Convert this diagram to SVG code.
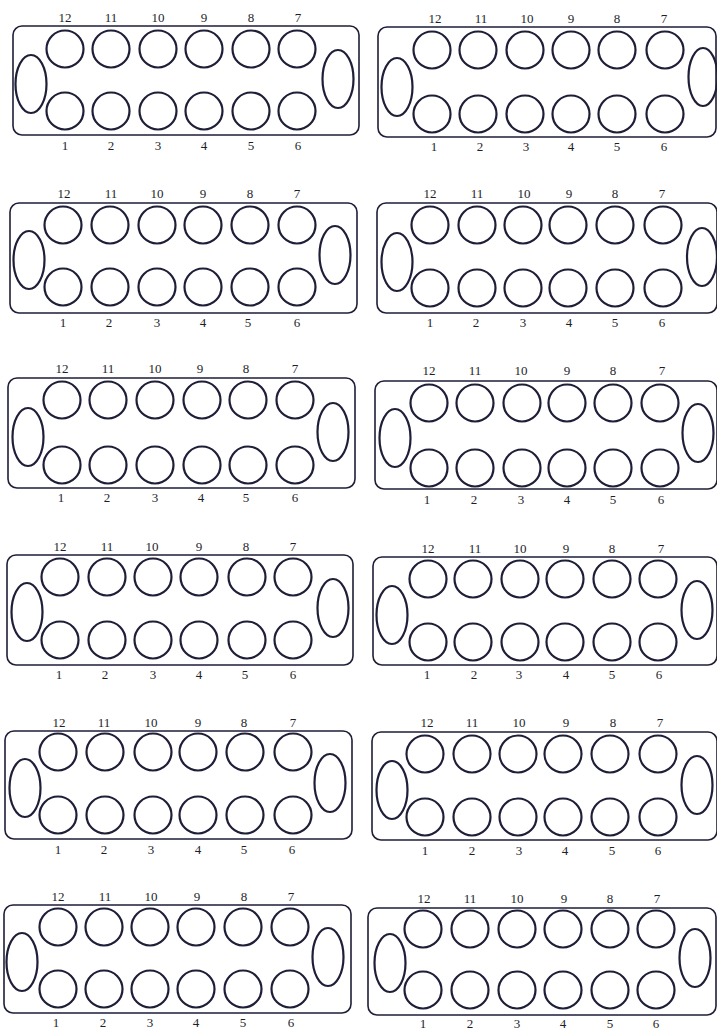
<svg xmlns="http://www.w3.org/2000/svg" width="717" height="1030" viewBox="0 0 717 1030">
<style>
.b{fill:none;stroke:#1e1e38;stroke-width:1.6}
.c{fill:none;stroke:#1e1e38;stroke-width:2.2}
.t{font-family:"Liberation Serif",serif;font-size:13px;fill:#1e1e2a;text-anchor:middle}
</style>
<rect width="717" height="1030" fill="#fff"/>
<g id="panel-1">
<rect class="b" x="13" y="26" width="346" height="109" rx="9"/>
<circle class="c" cx="65" cy="49" r="18.5"/><circle class="c" cx="111" cy="49" r="18.5"/><circle class="c" cx="158" cy="49" r="18.5"/><circle class="c" cx="204" cy="49" r="18.5"/><circle class="c" cx="251" cy="49" r="18.5"/><circle class="c" cx="297" cy="49" r="18.5"/>
<circle class="c" cx="65" cy="111" r="18.5"/><circle class="c" cx="111" cy="111" r="18.5"/><circle class="c" cx="158" cy="111" r="18.5"/><circle class="c" cx="204" cy="111" r="18.5"/><circle class="c" cx="251" cy="111" r="18.5"/><circle class="c" cx="297" cy="111" r="18.5"/>
<ellipse class="c" cx="31" cy="84" rx="15.5" ry="29"/><ellipse class="c" cx="338" cy="79" rx="15.5" ry="29"/>
<text class="t" x="65" y="22">12</text><text class="t" x="111" y="22">11</text><text class="t" x="158" y="22">10</text><text class="t" x="204" y="22">9</text><text class="t" x="251" y="22">8</text><text class="t" x="298" y="22">7</text>
<text class="t" x="65" y="150">1</text><text class="t" x="111" y="150">2</text><text class="t" x="158" y="150">3</text><text class="t" x="204" y="150">4</text><text class="t" x="251" y="150">5</text><text class="t" x="298" y="150">6</text>
</g>
<g id="panel-2">
<rect class="b" x="378" y="27" width="338" height="110" rx="9"/>
<circle class="c" cx="432" cy="50" r="18.5"/><circle class="c" cx="478" cy="50" r="18.5"/><circle class="c" cx="525" cy="50" r="18.5"/><circle class="c" cx="571" cy="50" r="18.5"/><circle class="c" cx="617" cy="50" r="18.5"/><circle class="c" cx="665" cy="50" r="18.5"/>
<circle class="c" cx="432" cy="114" r="18.5"/><circle class="c" cx="478" cy="114" r="18.5"/><circle class="c" cx="525" cy="114" r="18.5"/><circle class="c" cx="571" cy="114" r="18.5"/><circle class="c" cx="617" cy="114" r="18.5"/><circle class="c" cx="665" cy="114" r="18.5"/>
<ellipse class="c" cx="397" cy="87" rx="15.5" ry="29"/><ellipse class="c" cx="703" cy="77" rx="14.5" ry="29"/>
<text class="t" x="435" y="23">12</text><text class="t" x="481" y="23">11</text><text class="t" x="527" y="23">10</text><text class="t" x="571" y="23">9</text><text class="t" x="617" y="23">8</text><text class="t" x="664" y="23">7</text>
<text class="t" x="434" y="151">1</text><text class="t" x="480" y="151">2</text><text class="t" x="526" y="151">3</text><text class="t" x="571" y="151">4</text><text class="t" x="617" y="151">5</text><text class="t" x="664" y="151">6</text>
</g>
<g id="panel-3">
<rect class="b" x="10" y="203" width="347" height="110" rx="9"/>
<circle class="c" cx="63" cy="225" r="18.5"/><circle class="c" cx="110" cy="225" r="18.5"/><circle class="c" cx="157" cy="225" r="18.5"/><circle class="c" cx="203" cy="225" r="18.5"/><circle class="c" cx="250" cy="225" r="18.5"/><circle class="c" cx="297" cy="225" r="18.5"/>
<circle class="c" cx="63" cy="287" r="18.5"/><circle class="c" cx="110" cy="287" r="18.5"/><circle class="c" cx="157" cy="287" r="18.5"/><circle class="c" cx="203" cy="287" r="18.5"/><circle class="c" cx="250" cy="287" r="18.5"/><circle class="c" cx="297" cy="287" r="18.5"/>
<ellipse class="c" cx="29" cy="260" rx="15.5" ry="29"/><ellipse class="c" cx="335" cy="255" rx="15.5" ry="29"/>
<text class="t" x="64" y="198">12</text><text class="t" x="111" y="198">11</text><text class="t" x="157" y="198">10</text><text class="t" x="203" y="198">9</text><text class="t" x="250" y="198">8</text><text class="t" x="297" y="198">7</text>
<text class="t" x="63" y="327">1</text><text class="t" x="109" y="327">2</text><text class="t" x="157" y="327">3</text><text class="t" x="203" y="327">4</text><text class="t" x="248" y="327">5</text><text class="t" x="297" y="327">6</text>
</g>
<g id="panel-4">
<rect class="b" x="377" y="203" width="340" height="110" rx="9"/>
<circle class="c" cx="430" cy="225" r="18.5"/><circle class="c" cx="477" cy="225" r="18.5"/><circle class="c" cx="523" cy="225" r="18.5"/><circle class="c" cx="568" cy="225" r="18.5"/><circle class="c" cx="615" cy="225" r="18.5"/><circle class="c" cx="663" cy="225" r="18.5"/>
<circle class="c" cx="430" cy="288" r="18.5"/><circle class="c" cx="477" cy="288" r="18.5"/><circle class="c" cx="523" cy="288" r="18.5"/><circle class="c" cx="568" cy="288" r="18.5"/><circle class="c" cx="615" cy="288" r="18.5"/><circle class="c" cx="663" cy="288" r="18.5"/>
<ellipse class="c" cx="397" cy="262" rx="15.5" ry="29"/><ellipse class="c" cx="702" cy="257" rx="15" ry="29"/>
<text class="t" x="430" y="198">12</text><text class="t" x="477" y="198">11</text><text class="t" x="524" y="198">10</text><text class="t" x="569" y="198">9</text><text class="t" x="615" y="198">8</text><text class="t" x="662" y="198">7</text>
<text class="t" x="430" y="327">1</text><text class="t" x="476" y="327">2</text><text class="t" x="523" y="327">3</text><text class="t" x="569" y="327">4</text><text class="t" x="615" y="327">5</text><text class="t" x="662" y="327">6</text>
</g>
<g id="panel-5">
<rect class="b" x="8" y="378" width="347" height="110" rx="9"/>
<circle class="c" cx="62" cy="400" r="18.5"/><circle class="c" cx="108" cy="400" r="18.5"/><circle class="c" cx="155" cy="400" r="18.5"/><circle class="c" cx="202" cy="400" r="18.5"/><circle class="c" cx="248" cy="400" r="18.5"/><circle class="c" cx="295" cy="400" r="18.5"/>
<circle class="c" cx="62" cy="465" r="18.5"/><circle class="c" cx="108" cy="465" r="18.5"/><circle class="c" cx="155" cy="465" r="18.5"/><circle class="c" cx="202" cy="465" r="18.5"/><circle class="c" cx="248" cy="465" r="18.5"/><circle class="c" cx="295" cy="465" r="18.5"/>
<ellipse class="c" cx="28" cy="437" rx="15.5" ry="29"/><ellipse class="c" cx="333" cy="432" rx="15.5" ry="29"/>
<text class="t" x="62" y="373">12</text><text class="t" x="108" y="373">11</text><text class="t" x="155" y="373">10</text><text class="t" x="200" y="373">9</text><text class="t" x="246" y="373">8</text><text class="t" x="295" y="373">7</text>
<text class="t" x="61" y="502">1</text><text class="t" x="107" y="502">2</text><text class="t" x="155" y="502">3</text><text class="t" x="201" y="502">4</text><text class="t" x="246" y="502">5</text><text class="t" x="295" y="502">6</text>
</g>
<g id="panel-6">
<rect class="b" x="375" y="381" width="342" height="108" rx="9"/>
<circle class="c" cx="429" cy="403" r="18.5"/><circle class="c" cx="475" cy="403" r="18.5"/><circle class="c" cx="522" cy="403" r="18.5"/><circle class="c" cx="567" cy="403" r="18.5"/><circle class="c" cx="613" cy="403" r="18.5"/><circle class="c" cx="660" cy="403" r="18.5"/>
<circle class="c" cx="429" cy="468" r="18.5"/><circle class="c" cx="475" cy="468" r="18.5"/><circle class="c" cx="522" cy="468" r="18.5"/><circle class="c" cx="567" cy="468" r="18.5"/><circle class="c" cx="613" cy="468" r="18.5"/><circle class="c" cx="660" cy="468" r="18.5"/>
<ellipse class="c" cx="395" cy="438" rx="15.5" ry="29"/><ellipse class="c" cx="698" cy="433" rx="15.5" ry="29"/>
<text class="t" x="429" y="375">12</text><text class="t" x="475" y="375">11</text><text class="t" x="521" y="375">10</text><text class="t" x="567" y="375">9</text><text class="t" x="613" y="375">8</text><text class="t" x="662" y="375">7</text>
<text class="t" x="427" y="504">1</text><text class="t" x="474" y="504">2</text><text class="t" x="521" y="504">3</text><text class="t" x="567" y="504">4</text><text class="t" x="613" y="504">5</text><text class="t" x="661" y="504">6</text>
</g>
<g id="panel-7">
<rect class="b" x="7" y="555" width="346" height="110" rx="9"/>
<circle class="c" cx="60" cy="577" r="18.5"/><circle class="c" cx="107" cy="577" r="18.5"/><circle class="c" cx="153" cy="577" r="18.5"/><circle class="c" cx="199" cy="577" r="18.5"/><circle class="c" cx="247" cy="577" r="18.5"/><circle class="c" cx="293" cy="577" r="18.5"/>
<circle class="c" cx="60" cy="640" r="18.5"/><circle class="c" cx="107" cy="640" r="18.5"/><circle class="c" cx="153" cy="640" r="18.5"/><circle class="c" cx="199" cy="640" r="18.5"/><circle class="c" cx="247" cy="640" r="18.5"/><circle class="c" cx="293" cy="640" r="18.5"/>
<ellipse class="c" cx="27" cy="612" rx="15.5" ry="29"/><ellipse class="c" cx="333" cy="608" rx="15.5" ry="29"/>
<text class="t" x="60" y="551">12</text><text class="t" x="107" y="551">11</text><text class="t" x="152" y="551">10</text><text class="t" x="199" y="551">9</text><text class="t" x="246" y="551">8</text><text class="t" x="293" y="551">7</text>
<text class="t" x="59" y="679">1</text><text class="t" x="105" y="679">2</text><text class="t" x="153" y="679">3</text><text class="t" x="199" y="679">4</text><text class="t" x="245" y="679">5</text><text class="t" x="293" y="679">6</text>
</g>
<g id="panel-8">
<rect class="b" x="373" y="557" width="344" height="108" rx="9"/>
<circle class="c" cx="428" cy="579" r="18.5"/><circle class="c" cx="473" cy="579" r="18.5"/><circle class="c" cx="520" cy="579" r="18.5"/><circle class="c" cx="565" cy="579" r="18.5"/><circle class="c" cx="612" cy="579" r="18.5"/><circle class="c" cx="658" cy="579" r="18.5"/>
<circle class="c" cx="428" cy="642" r="18.5"/><circle class="c" cx="473" cy="642" r="18.5"/><circle class="c" cx="520" cy="642" r="18.5"/><circle class="c" cx="565" cy="642" r="18.5"/><circle class="c" cx="612" cy="642" r="18.5"/><circle class="c" cx="658" cy="642" r="18.5"/>
<ellipse class="c" cx="392" cy="615" rx="15.5" ry="29"/><ellipse class="c" cx="697" cy="610" rx="15.5" ry="29"/>
<text class="t" x="428" y="553">12</text><text class="t" x="475" y="553">11</text><text class="t" x="520" y="553">10</text><text class="t" x="566" y="553">9</text><text class="t" x="612" y="553">8</text><text class="t" x="661" y="553">7</text>
<text class="t" x="427" y="679">1</text><text class="t" x="474" y="679">2</text><text class="t" x="519" y="679">3</text><text class="t" x="566" y="679">4</text><text class="t" x="612" y="679">5</text><text class="t" x="659" y="679">6</text>
</g>
<g id="panel-9">
<rect class="b" x="5" y="731" width="347" height="108" rx="9"/>
<circle class="c" cx="58" cy="752" r="18.5"/><circle class="c" cx="105" cy="752" r="18.5"/><circle class="c" cx="153" cy="752" r="18.5"/><circle class="c" cx="198" cy="752" r="18.5"/><circle class="c" cx="245" cy="752" r="18.5"/><circle class="c" cx="293" cy="752" r="18.5"/>
<circle class="c" cx="58" cy="815" r="18.5"/><circle class="c" cx="105" cy="815" r="18.5"/><circle class="c" cx="153" cy="815" r="18.5"/><circle class="c" cx="198" cy="815" r="18.5"/><circle class="c" cx="245" cy="815" r="18.5"/><circle class="c" cx="293" cy="815" r="18.5"/>
<ellipse class="c" cx="25" cy="788" rx="15.5" ry="29"/><ellipse class="c" cx="330" cy="783" rx="15.5" ry="29"/>
<text class="t" x="59" y="727">12</text><text class="t" x="104" y="727">11</text><text class="t" x="151" y="727">10</text><text class="t" x="198" y="727">9</text><text class="t" x="244" y="727">8</text><text class="t" x="293" y="727">7</text>
<text class="t" x="58" y="854">1</text><text class="t" x="104" y="854">2</text><text class="t" x="151" y="854">3</text><text class="t" x="198" y="854">4</text><text class="t" x="244" y="854">5</text><text class="t" x="292" y="854">6</text>
</g>
<g id="panel-10">
<rect class="b" x="372" y="732" width="345" height="108" rx="9"/>
<circle class="c" cx="425" cy="754" r="18.5"/><circle class="c" cx="472" cy="754" r="18.5"/><circle class="c" cx="518" cy="754" r="18.5"/><circle class="c" cx="563" cy="754" r="18.5"/><circle class="c" cx="610" cy="754" r="18.5"/><circle class="c" cx="658" cy="754" r="18.5"/>
<circle class="c" cx="425" cy="817" r="18.5"/><circle class="c" cx="472" cy="817" r="18.5"/><circle class="c" cx="518" cy="817" r="18.5"/><circle class="c" cx="563" cy="817" r="18.5"/><circle class="c" cx="610" cy="817" r="18.5"/><circle class="c" cx="658" cy="817" r="18.5"/>
<ellipse class="c" cx="392" cy="790" rx="15.5" ry="29"/><ellipse class="c" cx="697" cy="785" rx="15.5" ry="29"/>
<text class="t" x="427" y="727">12</text><text class="t" x="472" y="727">11</text><text class="t" x="519" y="727">10</text><text class="t" x="566" y="727">9</text><text class="t" x="613" y="727">8</text><text class="t" x="660" y="727">7</text>
<text class="t" x="425" y="855">1</text><text class="t" x="472" y="855">2</text><text class="t" x="519" y="855">3</text><text class="t" x="565" y="855">4</text><text class="t" x="612" y="855">5</text><text class="t" x="658" y="855">6</text>
</g>
<g id="panel-11">
<rect class="b" x="4" y="905" width="347" height="108" rx="9"/>
<circle class="c" cx="58" cy="927" r="18.5"/><circle class="c" cx="104" cy="927" r="18.5"/><circle class="c" cx="150" cy="927" r="18.5"/><circle class="c" cx="196" cy="927" r="18.5"/><circle class="c" cx="243" cy="927" r="18.5"/><circle class="c" cx="290" cy="927" r="18.5"/>
<circle class="c" cx="58" cy="989" r="18.5"/><circle class="c" cx="104" cy="989" r="18.5"/><circle class="c" cx="150" cy="989" r="18.5"/><circle class="c" cx="196" cy="989" r="18.5"/><circle class="c" cx="243" cy="989" r="18.5"/><circle class="c" cx="290" cy="989" r="18.5"/>
<ellipse class="c" cx="22" cy="962" rx="15.5" ry="29"/><ellipse class="c" cx="328" cy="957" rx="15.5" ry="29"/>
<text class="t" x="58" y="901">12</text><text class="t" x="105" y="901">11</text><text class="t" x="151" y="901">10</text><text class="t" x="197" y="901">9</text><text class="t" x="244" y="901">8</text><text class="t" x="291" y="901">7</text>
<text class="t" x="56" y="1027">1</text><text class="t" x="103" y="1027">2</text><text class="t" x="150" y="1027">3</text><text class="t" x="196" y="1027">4</text><text class="t" x="243" y="1027">5</text><text class="t" x="291" y="1027">6</text>
</g>
<g id="panel-12">
<rect class="b" x="368" y="908" width="348" height="107" rx="9"/>
<circle class="c" cx="423" cy="929" r="18.5"/><circle class="c" cx="470" cy="929" r="18.5"/><circle class="c" cx="517" cy="929" r="18.5"/><circle class="c" cx="563" cy="929" r="18.5"/><circle class="c" cx="610" cy="929" r="18.5"/><circle class="c" cx="656" cy="929" r="18.5"/>
<circle class="c" cx="423" cy="990" r="18.5"/><circle class="c" cx="470" cy="990" r="18.5"/><circle class="c" cx="517" cy="990" r="18.5"/><circle class="c" cx="563" cy="990" r="18.5"/><circle class="c" cx="610" cy="990" r="18.5"/><circle class="c" cx="656" cy="990" r="18.5"/>
<ellipse class="c" cx="390" cy="963" rx="15.5" ry="29"/><ellipse class="c" cx="695" cy="958" rx="15.5" ry="29"/>
<text class="t" x="424" y="903">12</text><text class="t" x="470" y="903">11</text><text class="t" x="517" y="903">10</text><text class="t" x="564" y="903">9</text><text class="t" x="610" y="903">8</text><text class="t" x="657" y="903">7</text>
<text class="t" x="423" y="1028">1</text><text class="t" x="470" y="1028">2</text><text class="t" x="517" y="1028">3</text><text class="t" x="563" y="1028">4</text><text class="t" x="610" y="1028">5</text><text class="t" x="656" y="1028">6</text>
</g>
</svg>
